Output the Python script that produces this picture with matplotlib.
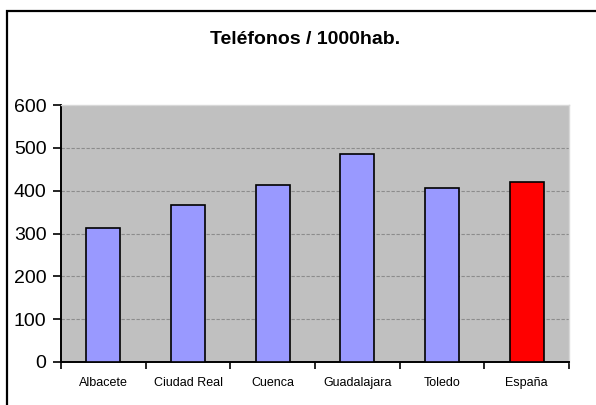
import matplotlib.pyplot as plt
from matplotlib.patches import Rectangle
import numpy as np

plt.rc('font', family='Liberation Sans')

provincias = ['Albacete', 'Ciudad Real', 'Cuenca', 'Guadalajara', 'Toledo', 'España']
telefonos = [313, 366, 414, 486, 407, 421]
colores = ['#9999FF', '#9999FF', '#9999FF', '#9999FF', '#9999FF', '#FF0000']
yticks = [0, 100, 200, 300, 400, 500, 600]

fig = plt.figure(figsize=(5.96, 4.05), dpi=100)
ax = fig.add_axes([61 / 596, 1 - 362 / 405, (569 - 61) / 596, (362 - 105) / 405])

x = np.arange(len(provincias))
ax.bar(x, telefonos, width=0.4, color=colores, edgecolor='black', linewidth=1.2, zorder=3)

ax.set_facecolor('#C0C0C0')
ax.set_xlim(-0.5, len(provincias) - 0.5)
ax.set_ylim(0, 600)
ax.set_yticks(yticks)
ax.set_yticklabels([str(v) for v in yticks], fontsize=14)
ax.yaxis.grid(True, color='#8c8c8c', linestyle=(0, (3, 1.5)), linewidth=0.8, zorder=1)

ax.set_xticks(x)
ax.set_xticklabels(provincias, fontsize=9)
ax.set_xticks(np.arange(-0.5, len(provincias)), minor=True)
ax.tick_params(axis='x', which='major', length=0, pad=11)
ax.tick_params(axis='x', which='minor', length=5, width=1.2, color='black')
ax.tick_params(axis='y', length=5.5, width=1.2, color='black', pad=5)

for s in ['top', 'right']:
    ax.spines[s].set_color('#d8d8d8')
    ax.spines[s].set_linewidth(1)
for s in ['left', 'bottom']:
    ax.spines[s].set_color('black')
    ax.spines[s].set_linewidth(1.4)

fig.text(305 / 596, 1 - 39 / 405, 'Teléfonos / 1000hab.', ha='center', va='center',
         fontsize=14, fontweight='bold')

# marco exterior
fig.patches.append(Rectangle((6.5 / 596, -0.05), 1.1, 1.05 - 10.5 / 405,
                             transform=fig.transFigure, fill=False,
                             edgecolor='black', linewidth=1.6))

fig.savefig('out.png', dpi=100)
